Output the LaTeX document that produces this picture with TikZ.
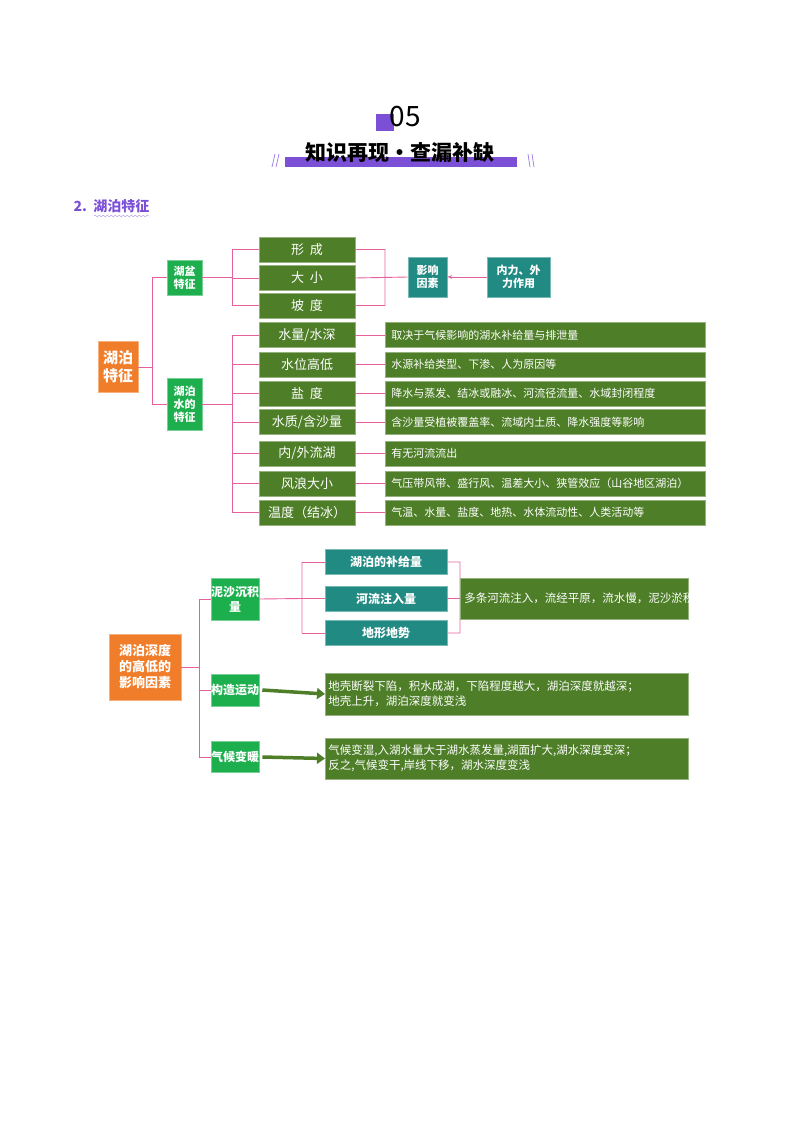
\documentclass[tikz,border=0pt]{standalone}
\usepackage{fontspec}
\setmainfont{Noto Sans CJK SC}
\usetikzlibrary{arrows.meta,decorations.pathmorphing}
\definecolor{dg}{HTML}{4E7F28}
\definecolor{bg}{HTML}{1DAF4E}
\definecolor{og}{HTML}{F07D2A}
\definecolor{tl}{HTML}{208A83}
\definecolor{pk}{HTML}{E6609E}
\definecolor{pu}{HTML}{7B4FD6}
\begin{document}
\begin{tikzpicture}[x=1pt,y=-1pt,
  bx/.style={draw=#1!60!white,line width=0.6pt,fill=#1,text=white,inner sep=0pt,font=\fontsize{13}{15}\selectfont},
  ln/.style={pk,line width=0.9pt}]
\useasboundingbox (0,0) rectangle (800,1132);
% title
\fill[pu] (376,114) rectangle (394,131);
\node (t05) at (405,117) {\fontsize{28}{30}\selectfont 05};
\fill[pu] (285,157) rectangle (517,167);
\node (ttl) at (400,152) {\fontsize{21}{24}\selectfont\bfseries 知识再现·查漏补缺};
\draw[pu!70,line width=0.8pt] (272,167)--(275,154) (276,167)--(279,154) (528,154)--(530,167) (532,154)--(534,167);
\node[anchor=west,text=pu] (sec) at (70,206) {\fontsize{14}{16}\selectfont\bfseries 2.\ \ 湖泊特征};
\draw[pu!60,decorate,decoration={snake,amplitude=0.8pt,segment length=4pt}] (94,216)--(150,216);
% part 1
\node[bx=og,minimum width=40,minimum height=51,font=\fontsize{15}{18}\selectfont\bfseries,align=center] (lake) at (118,367) {湖泊\\特征};
\node[bx=bg,minimum width=35,minimum height=35,font=\fontsize{11}{13}\selectfont\bfseries,align=center] (basin) at (184.5,277.5) {湖盆\\特征};
\node[bx=bg,minimum width=35,minimum height=52,font=\fontsize{11}{13}\selectfont\bfseries,align=center] (water) at (184.5,404) {湖泊\\水的\\特征};
\coordinate (tr1) at (152,367);
\draw[ln] (lake.east)--(tr1) (152,277.5)--(152,404) (152,277.5)--(basin.west) (152,404)--(water.west);
\foreach \n/\t/\y in {f1/{形\ \ 成}/249.5,f2/{大\ \ 小}/278,f3/{坡\ \ 度}/305.5}{
  \node[bx=dg,minimum width=96,minimum height=25] (\n) at (307,\y) {\t};}
\draw[ln] (basin.east)--(232,277.5) (232,249.5)--(232,305.5);
\foreach \n in {f1,f2,f3}{\draw[ln] (232,0|-\n.west)--(\n.west);}
\node[bx=tl,minimum width=39,minimum height=40,font=\fontsize{11}{13}\selectfont\bfseries,align=center] (inf) at (427.5,277) {影响\\因素};
\node[bx=tl,minimum width=63,minimum height=40,font=\fontsize{11}{13}\selectfont\bfseries,align=center] (force) at (518.5,277) {内力、外\\力作用};
\draw[ln] (f1.east)--(385,249.5)--(385,305.5)--(f3.east) (f2.east)--(inf.west);
\draw[ln,-{Stealth[length=5pt]}] (force.west)--(inf.east);
\foreach \n/\t/\d/\y in {w1/{水量/水深}/{取决于气候影响的湖水补给量与排泄量}/335,
  w2/{水位高低}/{水源补给类型、下渗、人为原因等}/364.5,
  w3/{盐\ \ 度}/{降水与蒸发、结冰或融冰、河流径流量、水域封闭程度}/393.5,
  w4/{水质/含沙量}/{含沙量受植被覆盖率、流域内土质、降水强度等影响}/422,
  w5/{内/外流湖}/{有无河流流出}/453.5,
  w6/{风浪大小}/{气压带风带、盛行风、温差大小、狭管效应（山谷地区湖泊）}/483.5,
  w7/{温度（结冰）}/{气温、水量、盐度、地热、水体流动性、人类活动等}/512.5}{
  \node[bx=dg,minimum width=96,minimum height=25] (\n) at (307,\y) {\t};
  \node[bx=dg,minimum width=320,minimum height=25,anchor=west,align=left,text width=314,font=\fontsize{11}{13}\selectfont] (\n d) at (385,\y) {\hspace*{3pt}\d};
  \draw[ln] (\n.east)--(\n d.west);
  \draw[ln] (232,\y)--(\n.west);}
\draw[ln] (water.east)--(232,404) (232,335)--(232,512.5);
% part 2
\node[bx=og,minimum width=72,minimum height=66,font=\fontsize{13}{16}\selectfont\bfseries,align=center] (depth) at (145,667) {湖泊深度\\的高低的\\影响因素};
\node[bx=bg,minimum width=40,minimum height=42,font=\fontsize{12}{15}\selectfont\bfseries,align=center] (sed) at (235,599) {泥沙沉积\\量};
\node[bx=bg,minimum width=40,minimum height=32,font=\fontsize{12}{15}\selectfont\bfseries] (tec) at (235,690) {构造运动};
\node[bx=bg,minimum width=40,minimum height=31,font=\fontsize{12}{15}\selectfont\bfseries] (cli) at (235,757) {气候变暖};
\draw[ln] (depth.east)--(199,667) (199,599)--(199,757) (199,599)--(sed.west) (199,690)--(tec.west) (199,757)--(cli.west);
\foreach \n/\t/\y in {s1/{湖泊的补给量}/562,s2/{河流注入量}/598.5,s3/{地形地势}/633}{
  \node[bx=tl,minimum width=122,minimum height=25,font=\fontsize{12}{15}\selectfont\bfseries] (\n) at (386,\y) {\t};
  \draw[ln] (302,\y)--(\n.west);}
\draw[ln] (sed.east)--(302,598.5) (302,562)--(302,633) (s1.east)--(460,562)--(460,633)--(s3.east);
\node[bx=dg,minimum width=228,minimum height=41,anchor=west,align=left,text width=220,font=\fontsize{11.5}{15}\selectfont] (sedd) at (460,598.5) {多条河流注入，流经平原，流水慢，泥沙淤积量大，水域较浅};
\draw[ln] (s2.east)--(sedd.west);
\node[bx=dg,minimum width=363,minimum height=42,anchor=west,align=left,text width=357,font=\fontsize{11.5}{15}\selectfont] (tecd) at (325,694) {地壳断裂下陷，积水成湖，下陷程度越大，湖泊深度就越深；\\地壳上升，湖泊深度就变浅};
\node[bx=dg,minimum width=363,minimum height=41,anchor=west,align=left,text width=357,font=\fontsize{11.5}{15}\selectfont] (clid) at (325,758.5) {气候变湿,入湖水量大于湖水蒸发量,湖面扩大,湖水深度变深；\\反之,气候变干,岸线下移，湖水深度变浅};
\draw[dg,line width=3.5pt,-{Triangle[length=8pt,width=11pt]}] (tec.east)++(3,0)--(tecd.west);
\draw[dg,line width=3.5pt,-{Triangle[length=8pt,width=11pt]}] (cli.east)++(3,0)--(clid.west);
\end{tikzpicture}
\end{document}
